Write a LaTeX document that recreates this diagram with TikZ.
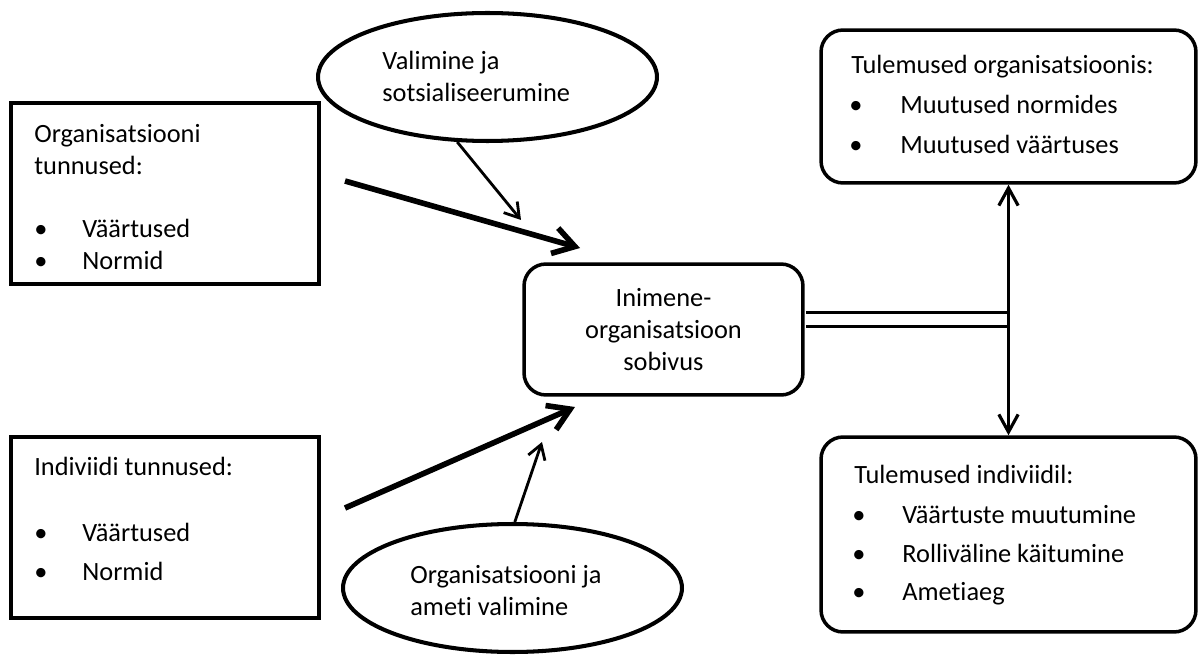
\documentclass[tikz,border=0pt]{standalone}
\usepackage{fontspec}
\setmainfont{Carlito}[Ligatures=NoCommon]
\usetikzlibrary{arrows.meta,shapes.geometric,calc}
\tikzset{
  sqbox/.style={draw,line width=2.1pt,minimum width=6.16cm,inner sep=0pt},
  rbox/.style={draw,line width=2pt,rounded corners=0.44cm,inner sep=0pt},
  oval/.style={draw,ellipse,line width=2.3pt,minimum width=6.78cm,minimum height=2.56cm,inner sep=0pt},
  txt/.style={anchor=base west,inner sep=0pt},
  bul/.style={anchor=base,inner sep=0pt},
  bigarr/.style={line width=3.2pt,-{Straight Barb[length=12pt,width=15pt]}},
  thinarr/.style={line width=1.6pt,-{Straight Barb[length=8pt,width=10pt]}},
}
\begin{document}
\begin{tikzpicture}[x=0.02cm,y=-0.02cm,font=\fontsize{15}{18}\selectfont]
\useasboundingbox (0,0) rectangle (1200,655);
\node[sqbox,minimum height=3.62cm] (orgbox) at (165,193.5) {};
\node[sqbox,minimum height=3.62cm] (indbox) at (165,527.5) {};
\node[oval] (selell) at (487.5,77) {};
\node[oval] (jobell) at (512.5,588) {};
\node[rbox,minimum width=5.58cm,minimum height=2.62cm,align=center] (fitbox) at (663.5,329.5) {Inimene-\\organisatsioon\\sobivus};
\node[rbox,minimum width=7.5cm,minimum height=3.06cm] (orgres) at (1008.5,106.5) {};
\node[rbox,minimum width=7.5cm,minimum height=3.9cm] (indres) at (1008.5,534.5) {};
% texts
\node[txt] (orgt1) at (34,143) {Organisatsiooni};
\node[txt] (orgt2) at (34,175) {tunnused:};
\foreach \y/\t [count=\i] in {237/Väärtused,270/Normid}{
  \node[bul] (orgb\i) at (41,\y) {\textbullet};
  \node[txt] (orgv\i) at (82,\y) {\t};}
\node[txt] (indt1) at (34,475) {Indiviidi tunnused:};
\foreach \y/\t [count=\i] in {541/Väärtused,580/Normid}{
  \node[bul] (indb\i) at (41,\y) {\textbullet};
  \node[txt] (indv\i) at (82,\y) {\t};}
\node[txt] (selt1) at (382,70) {Valimine ja};
\node[txt] (selt2) at (382,102) {sotsialiseerumine};
\node[txt] (jobt1) at (410,583) {Organisatsiooni ja};
\node[txt] (jobt2) at (410,615) {ameti valimine};
\node[txt] (orgrh) at (851,74) {Tulemused organisatsioonis:};
\foreach \y/\t [count=\i] in {114/Muutused normides,154/Muutused väärtuses}{
  \node[bul] (orgrb\i) at (856,\y) {\textbullet};
  \node[txt] (orgrv\i) at (900,\y) {\t};}
\node[txt] (indrh) at (854,483) {Tulemused indiviidil:};
\foreach \y/\t [count=\i] in {523/Väärtuste muutumine,562/Rolliväline käitumine,600/Ametiaeg}{
  \node[bul] (indrb\i) at (859,\y) {\textbullet};
  \node[txt] (indrv\i) at (902,\y) {\t};}
% arrows
\coordinate (orgS) at (345,181); \coordinate (orgE) at (580,248);
\coordinate (indS) at (345,508); \coordinate (indE) at (575,407);
\coordinate (selE) at (521,220); \coordinate (jobE) at (542,442);
\draw[bigarr] (orgS) -- (orgE);
\draw[bigarr] (indS) -- (indE);
\draw[thinarr] (selell.-115) -- (selE);
\draw[thinarr] (jobell.88) -- (jobE);
\coordinate (junc) at (1008.5,319.5);
\draw[line width=1.7pt,double distance=6.5pt] ($(fitbox.east |- junc)+(1pt,0)$) -- (junc);
\draw[line width=1.8pt,{Straight Barb[length=10pt,width=11pt]}-{Straight Barb[length=10pt,width=11pt]}] (orgres.south) -- (indres.north);
\end{tikzpicture}
\end{document}
